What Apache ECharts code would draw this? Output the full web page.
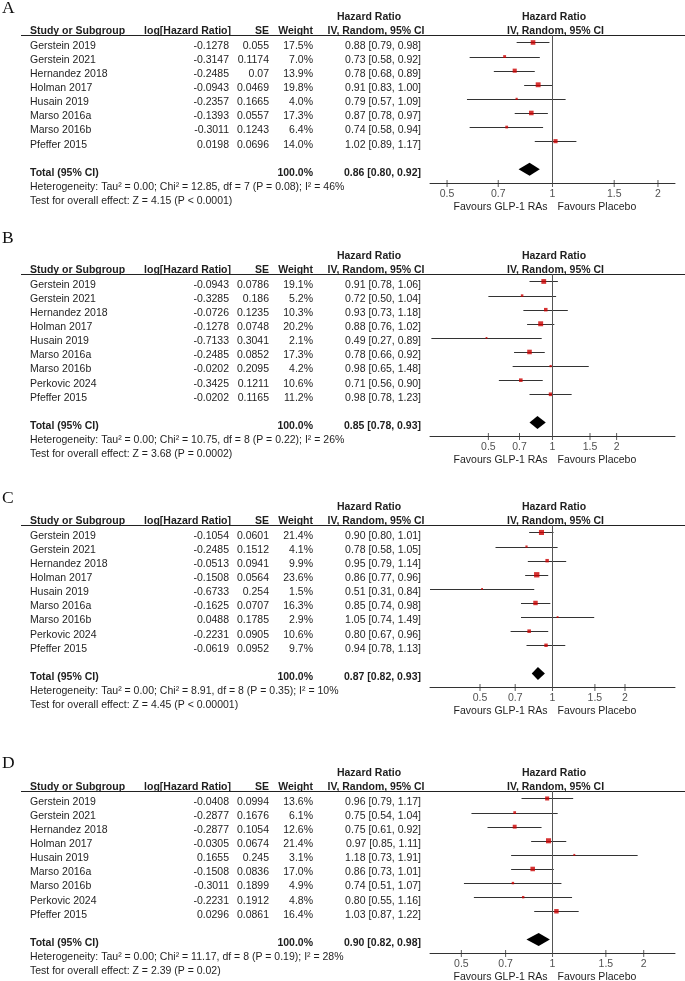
<!DOCTYPE html>
<html><head><meta charset="utf-8">
<script src="https://cdn.jsdelivr.net/npm/echarts@6/dist/echarts.min.js"></script>
<style>html,body{margin:0;padding:0;background:#fff}#c{width:685px;height:981px}</style>
</head><body><div id="c"></div>
<script>
// ---------- DATA ----------
const studiesA = ["Gerstein 2019","Gerstein 2021","Hernandez 2018","Holman 2017","Husain 2019","Marso 2016a","Marso 2016b","Pfeffer 2015"];
const studiesBCD = ["Gerstein 2019","Gerstein 2021","Hernandez 2018","Holman 2017","Husain 2019","Marso 2016a","Marso 2016b","Perkovic 2024","Pfeffer 2015"];
const tickValues = [0.5, 0.7, 1, 1.5, 2];

// Panel A
const logHrA = ["-0.1278","-0.3147","-0.2485","-0.0943","-0.2357","-0.1393","-0.3011","0.0198"];
const seA = ["0.055","0.1174","0.07","0.0469","0.1665","0.0557","0.1243","0.0696"];
const weightA = [17.5, 7.0, 13.9, 19.8, 4.0, 17.3, 6.4, 14.0];
const hrA = [0.88, 0.73, 0.78, 0.91, 0.79, 0.87, 0.74, 1.02];
const loA = [0.79, 0.58, 0.68, 0.83, 0.57, 0.78, 0.58, 0.89];
const hiA = [0.98, 0.92, 0.89, 1.00, 1.09, 0.97, 0.94, 1.17];
const totalA = [0.86, 0.80, 0.92];
const hetA = "Heterogeneity: Tau² = 0.00; Chi² = 12.85, df = 7 (P = 0.08); I² = 46%";
const testA = "Test for overall effect: Z = 4.15 (P < 0.0001)";
const rangeA = [0.447, 2.237];

// Panel B
const logHrB = ["-0.0943","-0.3285","-0.0726","-0.1278","-0.7133","-0.2485","-0.0202","-0.3425","-0.0202"];
const seB = ["0.0786","0.186","0.1235","0.0748","0.3041","0.0852","0.2095","0.1211","0.1165"];
const weightB = [19.1, 5.2, 10.3, 20.2, 2.1, 17.3, 4.2, 10.6, 11.2];
const hrB = [0.91, 0.72, 0.93, 0.88, 0.49, 0.78, 0.98, 0.71, 0.98];
const loB = [0.78, 0.50, 0.73, 0.76, 0.27, 0.66, 0.65, 0.56, 0.78];
const hiB = [1.06, 1.04, 1.18, 1.02, 0.89, 0.92, 1.48, 0.90, 1.23];
const totalB = [0.85, 0.78, 0.93];
const hetB = "Heterogeneity: Tau² = 0.00; Chi² = 10.75, df = 8 (P = 0.22); I² = 26%";
const testB = "Test for overall effect: Z = 3.68 (P = 0.0002)";
const rangeB = [0.266, 3.76];

// Panel C
const logHrC = ["-0.1054","-0.2485","-0.0513","-0.1508","-0.6733","-0.1625","0.0488","-0.2231","-0.0619"];
const seC = ["0.0601","0.1512","0.0941","0.0564","0.254","0.0707","0.1785","0.0905","0.0952"];
const weightC = [21.4, 4.1, 9.9, 23.6, 1.5, 16.3, 2.9, 10.6, 9.7];
const hrC = [0.90, 0.78, 0.95, 0.86, 0.51, 0.85, 1.05, 0.80, 0.94];
const loC = [0.80, 0.58, 0.79, 0.77, 0.31, 0.74, 0.74, 0.67, 0.78];
const hiC = [1.01, 1.05, 1.14, 0.96, 0.84, 0.98, 1.49, 0.96, 1.13];
const totalC = [0.87, 0.82, 0.93];
const hetC = "Heterogeneity: Tau² = 0.00; Chi² = 8.91, df = 8 (P = 0.35); I² = 10%";
const testC = "Test for overall effect: Z = 4.45 (P < 0.00001)";
const rangeC = [0.31, 3.226];

// Panel D
const logHrD = ["-0.0408","-0.2877","-0.2877","-0.0305","0.1655","-0.1508","-0.3011","-0.2231","0.0296"];
const seD = ["0.0994","0.1676","0.1054","0.0674","0.245","0.0836","0.1899","0.1912","0.0861"];
const weightD = [13.6, 6.1, 12.6, 21.4, 3.1, 17.0, 4.9, 4.8, 16.4];
const hrD = [0.96, 0.75, 0.75, 0.97, 1.18, 0.86, 0.74, 0.80, 1.03];
const loD = [0.79, 0.54, 0.61, 0.85, 0.73, 0.73, 0.51, 0.55, 0.87];
const hiD = [1.17, 1.04, 0.92, 1.11, 1.91, 1.01, 1.07, 1.16, 1.22];
const totalD = [0.90, 0.82, 0.98];
const hetD = "Heterogeneity: Tau² = 0.00; Chi² = 11.17, df = 8 (P = 0.19); I² = 28%";
const testD = "Test for overall effect: Z = 2.39 (P = 0.02)";
const rangeD = [0.394, 2.537];

// ---------- LAYOUT ----------
const FONT = '"Liberation Sans", Arial, Helvetica, sans-serif';
const FS = 10.5;
const TXT = '#1e1e1e';
const ROW = 14.1;
const YMIN = -0.53;
const GRID_LEFT = 430, GRID_W = 245;
const COL = { study: 30, logHr: 231, se: 269, weight: 313, hr: 421 };

const panels = [
  { letter: 'A', top: 35,  letterY: 8,   studies: studiesA,   logHr: logHrA, se: seA, weight: weightA, hr: hrA, lo: loA, hi: hiA, total: totalA, het: hetA, test: testA, range: rangeA },
  { letter: 'B', top: 274, letterY: 238, studies: studiesBCD, logHr: logHrB, se: seB, weight: weightB, hr: hrB, lo: loB, hi: hiB, total: totalB, het: hetB, test: testB, range: rangeB },
  { letter: 'C', top: 525, letterY: 498, studies: studiesBCD, logHr: logHrC, se: seC, weight: weightC, hr: hrC, lo: loC, hi: hiC, total: totalC, het: hetC, test: testC, range: rangeC },
  { letter: 'D', top: 791, letterY: 763, studies: studiesBCD, logHr: logHrD, se: seD, weight: weightD, hr: hrD, lo: loD, hi: hiD, total: totalD, het: hetD, test: testD, range: rangeD }
];

function fmtHR(h, l, u) { return h.toFixed(2) + ' [' + l.toFixed(2) + ', ' + u.toFixed(2) + ']'; }
function txt(text, x, y, align, bold, extra) {
  const font = (bold ? 'bold ' : '') + FS + 'px ' + FONT;
  return Object.assign({
    type: 'text', x: x, y: y, silent: true,
    style: { text: text, font: font, fill: TXT, align: align, textAlign: align, verticalAlign: 'middle', textVerticalAlign: 'middle' }
  }, extra || {});
}

const chart = echarts.init(document.getElementById('c'), null, { renderer: 'canvas' });

const grid = [], xAxis = [], yAxis = [], series = [];
panels.forEach(function (p, i) {
  const n = p.studies.length;
  const totalRow = n + 1, axisRow = n + 2;
  grid.push({ left: GRID_LEFT, width: GRID_W, top: p.top, height: (axisRow - YMIN) * ROW, containLabel: false });
  xAxis.push({
    gridIndex: i, type: 'log', logBase: 10, min: p.range[0], max: p.range[1],
    axisLine: { show: true, onZero: false, lineStyle: { color: '#333', width: 1 } },
    axisTick: { show: false }, axisLabel: { show: false }, splitLine: { show: false }
  });
  yAxis.push({ gridIndex: i, type: 'value', inverse: true, min: YMIN, max: axisRow, show: false });

  // confidence interval lines
  series.push({
    type: 'custom', xAxisIndex: i, yAxisIndex: i, silent: true, clip: false,
    data: p.hr.map(function (v, k) { return [p.lo[k], p.hi[k], k]; }),
    encode: { x: [0, 1], y: 2 },
    renderItem: function (params, api) {
      const a = api.coord([api.value(0), api.value(2)]);
      const b = api.coord([api.value(1), api.value(2)]);
      const y = Math.round(a[1]) + 0.5;
      return { type: 'line', shape: { x1: a[0], y1: y, x2: b[0], y2: y }, style: { stroke: '#333', lineWidth: 1 } };
    },
    z: 3
  });
  // study markers (size by weight) + null line
  series.push({
    type: 'scatter', xAxisIndex: i, yAxisIndex: i, silent: true, clip: false,
    data: p.hr.map(function (v, k) { return [v, k, p.weight[k]]; }),
    symbol: 'rect',
    symbolSize: function (val) { return Math.max(1.8, 1.1 * Math.sqrt(val[2])); },
    itemStyle: { color: '#cc0000' },
    z: 4,
    markLine: {
      silent: true, symbol: ['none', 'none'], label: { show: false }, animation: false,
      lineStyle: { color: '#555', width: 1, type: 'solid' },
      data: [{ xAxis: 1 }]
    }
  });
  // pooled diamond
  series.push({
    type: 'custom', xAxisIndex: i, yAxisIndex: i, silent: true, clip: false,
    data: [[p.total[1], p.total[0], p.total[2], totalRow]],
    encode: { x: [0, 1, 2], y: 3 },
    renderItem: function (params, api) {
      const l = api.coord([api.value(0), api.value(3)]);
      const c = api.coord([api.value(1), api.value(3)]);
      const r = api.coord([api.value(2), api.value(3)]);
      const h = 6.5;
      return { type: 'polygon', shape: { points: [[l[0], l[1]], [c[0], c[1] - h], [r[0], r[1]], [c[0], c[1] + h]] }, style: { fill: '#000' } };
    },
    z: 5
  });
  // axis ticks + tick labels
  series.push({
    type: 'scatter', xAxisIndex: i, yAxisIndex: i, silent: true, clip: false,
    data: tickValues.map(function (v) { return [v, axisRow]; }),
    symbol: 'rect', symbolSize: [1, 7],
    itemStyle: { color: '#333' },
    label: { show: true, position: 'bottom', distance: 2, color: TXT, fontFamily: FONT, fontSize: FS,
      formatter: function (d) { return String(d.value[0]); } },
    z: 4
  });
});

chart.setOption({ animation: false, backgroundColor: '#fff', grid: grid, xAxis: xAxis, yAxis: yAxis, series: series });

// ---------- TEXT (table) ----------
const graphic = [];
panels.forEach(function (p, i) {
  const n = p.studies.length;
  const totalRow = n + 1, axisRow = n + 2;
  const nullPt = chart.convertToPixel({ gridIndex: i }, [1, axisRow]);
  const nullX = nullPt[0], axisY = nullPt[1];
  const rowY = function (k) { return p.top + 11 + k * ROW; };

  graphic.push({ type: 'text', x: 2, y: p.letterY, silent: true,
    style: { text: p.letter, font: '17.5px "Liberation Serif", "Times New Roman", serif', fill: '#111', align: 'left', textAlign: 'left', verticalAlign: 'middle', textVerticalAlign: 'middle' } });

  // headers
  graphic.push(txt('Hazard Ratio', 369, p.top - 18, 'center', true));
  graphic.push(txt('Hazard Ratio', nullX + 1.5, p.top - 18, 'center', true));
  const hy = p.top - 3.8;
  graphic.push(txt('Study or Subgroup', COL.study, hy, 'left', true));
  graphic.push(txt('log[Hazard Ratio]', COL.logHr, hy, 'right', true));
  graphic.push(txt('SE', COL.se, hy, 'right', true));
  graphic.push(txt('Weight', COL.weight, hy, 'right', true));
  graphic.push(txt('IV, Random, 95% CI', 376, hy, 'center', true));
  graphic.push(txt('IV, Random, 95% CI', nullX + 3, hy, 'center', true));
  graphic.push({ type: 'line', silent: true, shape: { x1: 21, y1: p.top + 0.5, x2: 685, y2: p.top + 0.5 }, style: { stroke: '#222', lineWidth: 1 } });

  // study rows
  p.studies.forEach(function (s, k) {
    const y = rowY(k);
    graphic.push(txt(s, COL.study, y, 'left', false));
    graphic.push(txt(p.logHr[k], COL.logHr - 2, y, 'right', false));
    graphic.push(txt(p.se[k], COL.se, y, 'right', false));
    graphic.push(txt(p.weight[k].toFixed(1) + '%', COL.weight, y, 'right', false));
    graphic.push(txt(fmtHR(p.hr[k], p.lo[k], p.hi[k]), COL.hr, y, 'right', false));
  });

  // total
  const ty = rowY(totalRow);
  graphic.push(txt('Total (95% CI)', COL.study, ty, 'left', true));
  graphic.push(txt('100.0%', COL.weight, ty, 'right', true));
  graphic.push(txt(fmtHR(p.total[0], p.total[1], p.total[2]), COL.hr, ty, 'right', true));
  graphic.push(txt(p.het, COL.study, ty + 14.3, 'left', false));
  graphic.push(txt(p.test, COL.study, ty + 28.5, 'left', false));

  // favours labels
  graphic.push(txt('Favours GLP-1 RAs', nullX - 5, axisY + 24, 'right', false));
  graphic.push(txt('Favours Placebo', nullX + 5, axisY + 24, 'left', false));
});

chart.setOption({ graphic: { elements: graphic } });
</script>
</body></html>
